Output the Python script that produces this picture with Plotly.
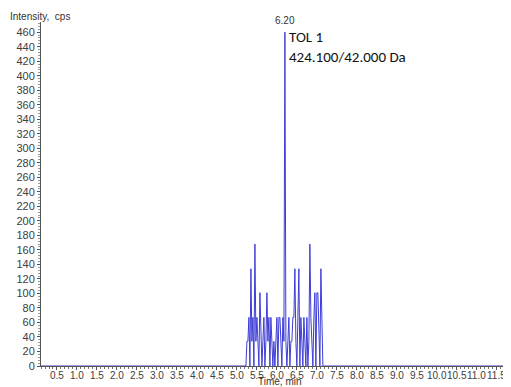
import numpy as np
import plotly.graph_objects as go

# signal region (min, cps); outside this window the trace is zero
sig_time = [5.200, 5.225, 5.250, 5.275, 5.300, 5.325, 5.350, 5.375, 5.400, 5.425,
            5.450, 5.475, 5.500, 5.525, 5.550, 5.575, 5.600, 5.625, 5.650, 5.675,
            5.700, 5.725, 5.750, 5.775, 5.800, 5.825, 5.850, 5.875, 5.900, 5.925,
            5.950, 5.975, 6.000, 6.025, 6.050, 6.075, 6.100, 6.125, 6.150, 6.175,
            6.200, 6.225, 6.250, 6.275, 6.300, 6.325, 6.350, 6.375, 6.400, 6.425,
            6.450, 6.475, 6.500, 6.525, 6.550, 6.575, 6.600, 6.625, 6.650, 6.675,
            6.700, 6.725, 6.750, 6.775, 6.800, 6.825, 6.850, 6.875, 6.900, 6.925,
            6.950, 6.975, 7.000, 7.025, 7.050, 7.075, 7.100, 7.125, 7.150, 7.175]
sig_int = [0, 0, 34, 34, 67, 0, 134, 34, 67, 0,
           168, 34, 67, 34, 0, 101, 34, 0, 34, 67,
           0, 34, 101, 34, 67, 0, 67, 34, 0, 34,
           0, 34, 67, 0, 67, 67, 34, 0, 67, 34,
           460, 34, 0, 34, 67, 0, 34, 34, 67, 67,
           134, 34, 0, 67, 134, 0, 67, 34, 0, 67,
           34, 0, 67, 0, 34, 168, 67, 34, 0, 67,
           101, 0, 101, 101, 34, 0, 134, 34, 0, 0]

baseline_start = [0.10]
baseline_end = [11.78]

x_ticks = [0.5, 1.0, 1.5, 2.0, 2.5, 3.0, 3.5, 4.0, 4.5, 5.0, 5.5, 6.0,
           6.5, 7.0, 7.5, 8.0, 8.5, 9.0, 9.5, 10.0, 10.5, 11.0, 11.5]
x_tick_text = ["0.5", "1.0", "1.5", "2.0", "2.5", "3.0", "3.5", "4.0", "4.5", "5.0",
               "5.5", "6.0", "6.5", "7.0", "7.5", "8.0", "8.5", "9.0", "9.5",
               "10.0", "10.5", "11.0", "11.5"]
y_ticks = list(range(0, 461, 20))

peak_label = "6.20"
peak_time = 6.20
peak_int = 460

t = baseline_start + sig_time + baseline_end
y = [0] + sig_int + [0]

fig = go.Figure()
fig.add_trace(go.Scatter(x=t, y=y, mode="lines",
                         line=dict(color="#3d3dd6", width=1), hoverinfo="skip"))

# the page body adds an 8 px offset, so the figure is 8 px smaller
font = dict(family="Liberation Sans, Arial, sans-serif", size=11, color="#404040")
fig.update_layout(
    width=503, height=379,
    margin=dict(l=33, r=3, t=14, b=21),
    paper_bgcolor="white", plot_bgcolor="white",
    showlegend=False,
    font=font,
    xaxis=dict(range=[0.10, 11.78], tickvals=x_ticks, showticklabels=False,
               automargin=False,
               ticks="outside", ticklen=3, tickcolor="#555", showline=True,
               linecolor="#555", linewidth=1, showgrid=False, zeroline=False,
               minor=dict(ticks="outside", ticklen=2, dtick=0.1, tickcolor="#777")),
    yaxis=dict(range=[0, 474], tickvals=y_ticks, automargin=False,
               ticks="outside", ticklen=3, tickcolor="#555", showline=True,
               linecolor="#555", linewidth=1, showgrid=False, zeroline=False,
               minor=dict(ticks="outside", ticklen=2, dtick=4, tickcolor="#999"),
               tickfont=dict(size=11, color="#404040")),
)
# x tick labels, placed tight under the axis
for xv, txt in zip(x_ticks, x_tick_text):
    fig.add_annotation(x=xv, y=0, xref="x", yref="paper", text=txt,
                       showarrow=False, yanchor="top", yshift=-3, borderpad=0,
                       font=dict(size=10, color="#404040"))
fig.add_annotation(x=0, y=1, xref="paper", yref="paper", xshift=-33, yshift=-2,
                   text="Intensity,  cps", showarrow=False, xanchor="left",
                   yanchor="bottom", font=dict(size=10, color="#333"))
fig.add_annotation(x=0.5, y=0, xref="paper", yref="paper", text="Time, min",
                   showarrow=False, xshift=5, yshift=-23, yanchor="bottom",
                   font=dict(size=10, color="#333"))
fig.add_annotation(x=peak_time, y=peak_int, text=peak_label, showarrow=False,
                   yanchor="bottom", yshift=4, font=dict(size=10, color="#333"))
fig.add_annotation(x=peak_time, y=1, xref="x", yref="paper", xshift=2, yshift=-4,
                   text="TOL 1<br>424.100/42.000 Da", showarrow=False,
                   xanchor="left", yanchor="top", align="left",
                   font=dict(family="Carlito, Liberation Sans, sans-serif", size=15, color="#111"))

fig.write_html("out.html")
